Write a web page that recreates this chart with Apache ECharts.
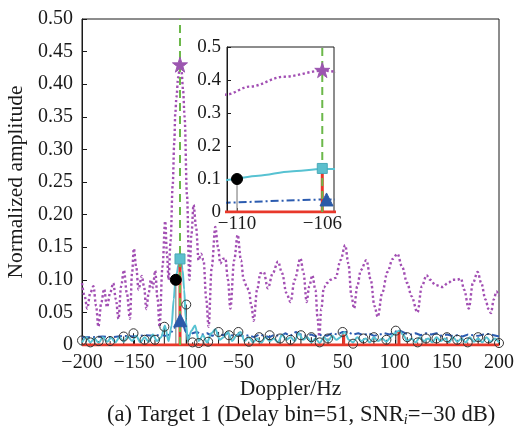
<!DOCTYPE html>
<html><head><meta charset="utf-8">
<script src="https://cdn.jsdelivr.net/npm/echarts@6/dist/echarts.min.js"></script>
<style>html,body{margin:0;padding:0;background:#fff}#c{width:515px;height:428px}</style>
</head><body><div id="c"></div>
<script>
// ---------- data ----------
const mainXTicks = [-200, -150, -100, -50, 0, 50, 100, 150, 200];
const insetXTicks = [-110, -106];
const targetDoppler = -106;

const purpleCurve = [
  [-200,0.095],[-197.5,0.075],[-195,0.056],[-192,0.08],[-189,0.09],[-186.5,0.06],[-184.3,0.028],[-181.5,0.065],[-178.8,0.086],[-176,0.058],[-173,0.08],[-170,0.095],[-167.5,0.07],[-165,0.04],[-162.5,0.09],[-159.8,0.115],[-157,0.08],[-154,0.04],[-152,0.11],[-150.3,0.148],[-148,0.12],[-145.8,0.085],[-142.6,0.106],[-140.5,0.09],[-138.3,0.055],[-136,0.08],[-134,0.1],[-132,0.088],[-129.8,0.114],[-127.5,0.07],[-125.6,0.028],[-122.8,0.12],[-120.2,0.19],[-118.5,0.14],[-117,0.1],[-115,0.16],[-113,0.245],[-111.5,0.31],[-110.5,0.356],[-109.4,0.38],[-107.8,0.41],[-106,0.428],[-104.5,0.42],[-103,0.39],[-101.6,0.35],[-99.3,0.23],[-97,0.1],[-95,0.17],[-93,0.215],[-90.5,0.18],[-88.2,0.13],[-85.8,0.14],[-83.4,0.13],[-80.8,0.07],[-78.6,0.028],[-75.5,0.12],[-72.1,0.181],[-69.5,0.15],[-67.3,0.125],[-65,0.132],[-62.5,0.133],[-60,0.1],[-57.7,0.056],[-54,0.13],[-50.7,0.169],[-47.5,0.13],[-44.9,0.1],[-42,0.09],[-40,0.084],[-37.5,0.06],[-35.3,0.037],[-32,0.085],[-28.8,0.11],[-25.7,0.112],[-21.7,0.087],[-17,0.11],[-12,0.128],[-8,0.11],[-4,0.08],[0,0.066],[4,0.1],[9.6,0.133],[12.5,0.11],[15.5,0.066],[18,0.09],[20.9,0.107],[24,0.084],[26,0.04],[27.6,0.013],[29.5,0.055],[32,0.088],[35,0.095],[38.5,0.1],[43.3,0.103],[48,0.13],[52.5,0.153],[55.5,0.125],[58.5,0.075],[61,0.056],[64,0.09],[67.5,0.115],[72.8,0.13],[77,0.1],[80.5,0.06],[83.7,0.043],[88,0.08],[93,0.112],[98,0.132],[102.6,0.14],[107,0.12],[112,0.095],[116,0.075],[121.8,0.05],[126,0.09],[130.5,0.107],[134,0.1],[139,0.092],[145.9,0.089],[151,0.095],[156,0.1],[160,0.1],[163.5,0.102],[166.5,0.085],[171,0.056],[175,0.095],[179.5,0.112],[183,0.095],[187,0.07],[190,0.055],[192.3,0.049],[195,0.07],[197.5,0.082],[200,0.075]
];

const cyanCurve = [
  [-200,0.004],[-196,0.012],[-192,0.004],[-188,0.01],[-184,0.003],[-180,0.012],[-176,0.005],[-172,0.011],[-168,0.004],[-164,0.012],[-160,0.005],[-156,0.013],[-152,0.006],[-148,0.014],[-144,0.004],[-140,0.012],[-136,0.005],[-132,0.016],[-128,0.006],[-124,0.012],[-120.5,0.03],[-117,0.006],[-114,0.03],[-112,0.07],[-110.5,0.097],[-109,0.11],[-107.5,0.123],[-106,0.13],[-105,0.13],[-103.5,0.115],[-102,0.085],[-100.5,0.04],[-98.5,0.006],[-95,0.022],[-91.5,0.03],[-88,0.006],[-84,0.015],[-80,0.004],[-76,0.018],[-72,0.024],[-68,0.008],[-64,0.012],[-60,0.02],[-56,0.006],[-52,0.014],[-48,0.02],[-44,0.006],[-40,0.012],[-36,0.004],[-32,0.01],[-28,0.003],[-24,0.012],[-20,0.006],[-16,0.01],[-12,0.004],[-8,0.016],[-4,0.008],[0,0.012],[4,0.006],[8,0.018],[12,0.008],[16,0.012],[20,0.004],[24,0.01],[28,0.003],[32,0.012],[36,0.006],[40,0.014],[44,0.008],[48,0.012],[52,0.02],[56,0.008],[60,0.004],[64,0.012],[68,0.006],[72,0.01],[76,0.004],[80,0.012],[84,0.006],[88,0.01],[92,0.005],[96,0.012],[100,0.018],[104,0.022],[108,0.016],[112,0.006],[116,0.01],[120,0.004],[124,0.012],[128,0.006],[132,0.01],[136,0.004],[140,0.012],[144,0.006],[148,0.01],[152,0.004],[156,0.012],[160,0.005],[164,0.01],[168,0.004],[172,0.012],[176,0.005],[180,0.01],[184,0.004],[188,0.012],[192,0.005],[196,0.01],[200,0.004]
];

const blueCurve = [
  [-200,0.012],[-190,0.012],[-180,0.013],[-170,0.012],[-160,0.014],[-150,0.013],[-140,0.015],[-130,0.014],[-125,0.016],[-120,0.014],[-116,0.016],[-113,0.022],[-110.5,0.028],[-108,0.034],[-106,0.038],[-105,0.038],[-103,0.032],[-101,0.022],[-98,0.014],[-94,0.018],[-90,0.02],[-85,0.016],[-80,0.018],[-75,0.014],[-70,0.018],[-65,0.015],[-60,0.018],[-55,0.014],[-50,0.016],[-45,0.013],[-40,0.015],[-35,0.012],[-30,0.016],[-25,0.014],[-20,0.012],[-15,0.016],[-10,0.013],[-5,0.018],[0,0.014],[5,0.02],[10,0.016],[15,0.014],[20,0.016],[25,0.013],[30,0.016],[35,0.014],[40,0.018],[45,0.016],[50,0.02],[55,0.02],[60,0.016],[65,0.018],[70,0.015],[75,0.018],[80,0.014],[85,0.016],[90,0.018],[95,0.016],[100,0.02],[105,0.022],[110,0.018],[115,0.016],[120,0.018],[125,0.015],[130,0.018],[135,0.016],[140,0.018],[145,0.014],[150,0.016],[155,0.014],[160,0.015],[165,0.013],[170,0.016],[175,0.015],[180,0.014],[185,0.016],[190,0.017],[195,0.015],[200,0.013]
];

const redStems = [[-106, 0.14], [51, 0.016], [104, 0.02]];
const blackStems = [
  [-200,0.007],[-192,0.004],[-184,0.006],[-173,0.006],[-160,0.013],[-150.6,0.018],[-140,0.008],[-130,0.008],[-121,0.028],[-100,0.062],[-94,0.004],[-88,0.003],[-79,0.005],[-69,0.02],[-59,0.015],[-50,0.02],[-40,0.005],[-30,0.012],[-20,0.015],[-10,0.01],[0,0.008],[10,0.015],[20,0.012],[28,0.004],[36,0.01],[50,0.02],[60,0.002],[70,0.01],[80,0.012],[92,0.008],[101,0.022],[112,0.012],[122,0.004],[130,0.01],[140,0.01],[150,0.012],[160,0.008],[170,0.004],[180,0.012],[190,0.01],[200,0.003]
];
const detectedPoint = [[-110, 0.1]];
const starPoint = [[-106, 0.43]];
const squarePoint = [[-106, 0.132]];
const trianglePoint = [[-105.8, 0.038]];
const baseline = [[-200, 0], [200, 0]];
const targetLine = [[targetDoppler, 0], [targetDoppler, 0.5]];

// ---------- styles ----------
const FONT = 'Liberation Serif';
const C = { purple:'#a24fb3', cyan:'#57c2d2', blue:'#2c5cb0', red:'#e8382a', green:'#6cb84a', black:'#1a1a1a', gray:'#888' };
const INSET_RANGE = [-110.47, -105.45];
const inRange = d => d[0] >= INSET_RANGE[0] && d[0] <= INSET_RANGE[1];
const fmtNum = (v, d) => v === 0 ? '0' : (v < 0 ? '−' + Math.abs(v).toFixed(d) : v.toFixed(d));

function stem(data, g, color, width, z) {
  return { type:'custom', xAxisIndex:g, yAxisIndex:g, z, data, clip:true,
    encode:{x:0, y:1},
    renderItem(params, api) {
      const x = api.value(0), y = api.value(1);
      const p0 = api.coord([x, 0]), p1 = api.coord([x, y]);
      return { type:'line', shape:{x1:p0[0], y1:p0[1], x2:p1[0], y2:p1[1]}, style:{stroke:color, lineWidth:width} };
    } };
}
function line(data, g, color, width, type, z, smooth) {
  return { type:'line', xAxisIndex:g, yAxisIndex:g, data, z, showSymbol:false, symbol:'none', clip:true,
    smooth: smooth || false, smoothMonotone: smooth ? 'x' : undefined,
    lineStyle:{ color, width, type, cap:'butt' }, silent:true };
}
function marker(data, g, symbol, size, fill, border, z) {
  return { type:'scatter', xAxisIndex:g, yAxisIndex:g, data, z, symbol, symbolSize:size, clip:true,
    itemStyle:{ color:fill, borderColor:border, borderWidth:1, opacity:1 } };
}

function seriesFor(g, zBase) {
  const f = g === 1 ? (arr => arr.filter(inRange)) : (arr => arr);
  const s = [
    line(purpleCurve, g, C.purple, 2.4, [2.3, 2.5], zBase, 0.35),
    stem(f(blackStems), g, C.black, 1, zBase + 1),
    line(blueCurve, g, C.blue, 2, [8, 3, 2, 3], zBase + 1),
    line(cyanCurve, g, C.cyan, 2, 'solid', zBase + 2, 0.3),
    stem(f(redStems), g, C.red, 3, zBase + 3),
    stem(detectedPoint, g, C.gray, 1.2, zBase + 3),
    line(baseline, g, C.red, 3, 'solid', zBase + 3),
    line(targetLine, g, C.green, 2, [8, 5], zBase + 4),
    marker(starPoint, g, 'path://M50,0 L61.8,35.1 L98.9,35.1 L68.9,56.9 L80.3,91.9 L50,70.2 L19.7,91.9 L31.1,56.9 L1.1,35.1 L38.2,35.1 Z', 15, '#9c56b0', '#9c56b0', zBase + 5),
    marker(squarePoint, g, 'rect', 10, '#5cbfcd', '#4aa9b8', zBase + 5),
    marker(trianglePoint, g, 'triangle', 13, '#2b5aa8', '#2b5aa8', zBase + 5),
    marker(detectedPoint, g, 'circle', 11, '#000', '#000', zBase + 5)
  ];
  if (g === 0) s.push(marker(blackStems, g, 'circle', 9, 'rgba(0,0,0,0)', '#333', zBase + 5));
  return s;
}

const labelStyle = { fontFamily:FONT, fontSize:20, color:'#1a1a1a', fontWeight:'normal' };
const nameStyle = { fontFamily:FONT, fontSize:21.5, color:'#1a1a1a', fontWeight:'normal' };
const option = {
  animation:false,
  backgroundColor:'#fff',
  title:{
    text:'{a|(a) Target 1 (Delay bin=51, SNR}{s|i}{a|=−30 dB)}',
    left:102, top:397,
    textStyle:{ fontWeight:'normal', rich:{
      a:{ fontFamily:FONT, fontSize:22.6, color:'#1a1a1a', fontWeight:'normal', lineHeight:26 },
      s:{ fontFamily:FONT, fontSize:14, fontStyle:'italic', fontWeight:'normal', color:'#1a1a1a', lineHeight:26, padding:[10,0,0,0] }
    } }
  },
  grid:[
    { left:82, top:19, width:417, height:326, show:true, borderColor:'#1a1a1a', borderWidth:1, backgroundColor:'rgba(0,0,0,0)', z:0, outerBoundsMode:'none' },
    { left:227, top:47, width:107, height:165, show:true, borderColor:'#1a1a1a', borderWidth:1, backgroundColor:'#fff', z:10, outerBoundsMode:'none' }
  ],
  xAxis:[
    { type:'value', gridIndex:0, min:-200, max:200, interval:50,
      axisLine:{ onZero:false, lineStyle:{ color:'#1a1a1a' } },
      axisTick:{ inside:true, length:5, lineStyle:{ color:'#1a1a1a' } },
      axisLabel:{ ...labelStyle, margin:8, formatter:v => fmtNum(v, 0) },
      splitLine:{ show:false },
      name:'Doppler/Hz', nameLocation:'middle', nameGap:32, nameTextStyle:{ ...nameStyle } },
    { type:'value', gridIndex:1, min:INSET_RANGE[0], max:INSET_RANGE[1], z:14,
      axisLine:{ onZero:false, lineStyle:{ color:'#1a1a1a' } },
      axisTick:{ inside:true, length:4, customValues:insetXTicks, lineStyle:{ color:'#1a1a1a' } },
      axisLabel:{ ...labelStyle, fontSize:19, margin:3, customValues:insetXTicks, formatter:v => fmtNum(v, 0) },
      splitLine:{ show:false } }
  ],
  yAxis:[
    { type:'value', gridIndex:0, min:0, max:0.5, interval:0.05,
      axisLine:{ show:true, onZero:false, lineStyle:{ color:'#1a1a1a' } },
      axisTick:{ show:true, inside:true, length:5, lineStyle:{ color:'#1a1a1a' } },
      axisLabel:{ ...labelStyle, margin:9, formatter:v => fmtNum(v, 2) },
      splitLine:{ show:false },
      name:'Normalized amplitude', nameLocation:'middle', nameGap:54, nameTextStyle:{ ...nameStyle } },
    { type:'value', gridIndex:1, min:0, max:0.5, interval:0.1, z:14,
      axisLine:{ show:true, onZero:false, lineStyle:{ color:'#1a1a1a' } },
      axisTick:{ show:true, inside:true, length:4, lineStyle:{ color:'#1a1a1a' } },
      axisLabel:{ ...labelStyle, fontSize:19, margin:6, formatter:v => fmtNum(v, 1) },
      splitLine:{ show:false } }
  ],
  series:[ ...seriesFor(0, 2), ...seriesFor(1, 12) ]
};
const chart = echarts.init(document.getElementById('c'), null, { renderer:'canvas' });
chart.setOption(option);
</script>
</body></html>
